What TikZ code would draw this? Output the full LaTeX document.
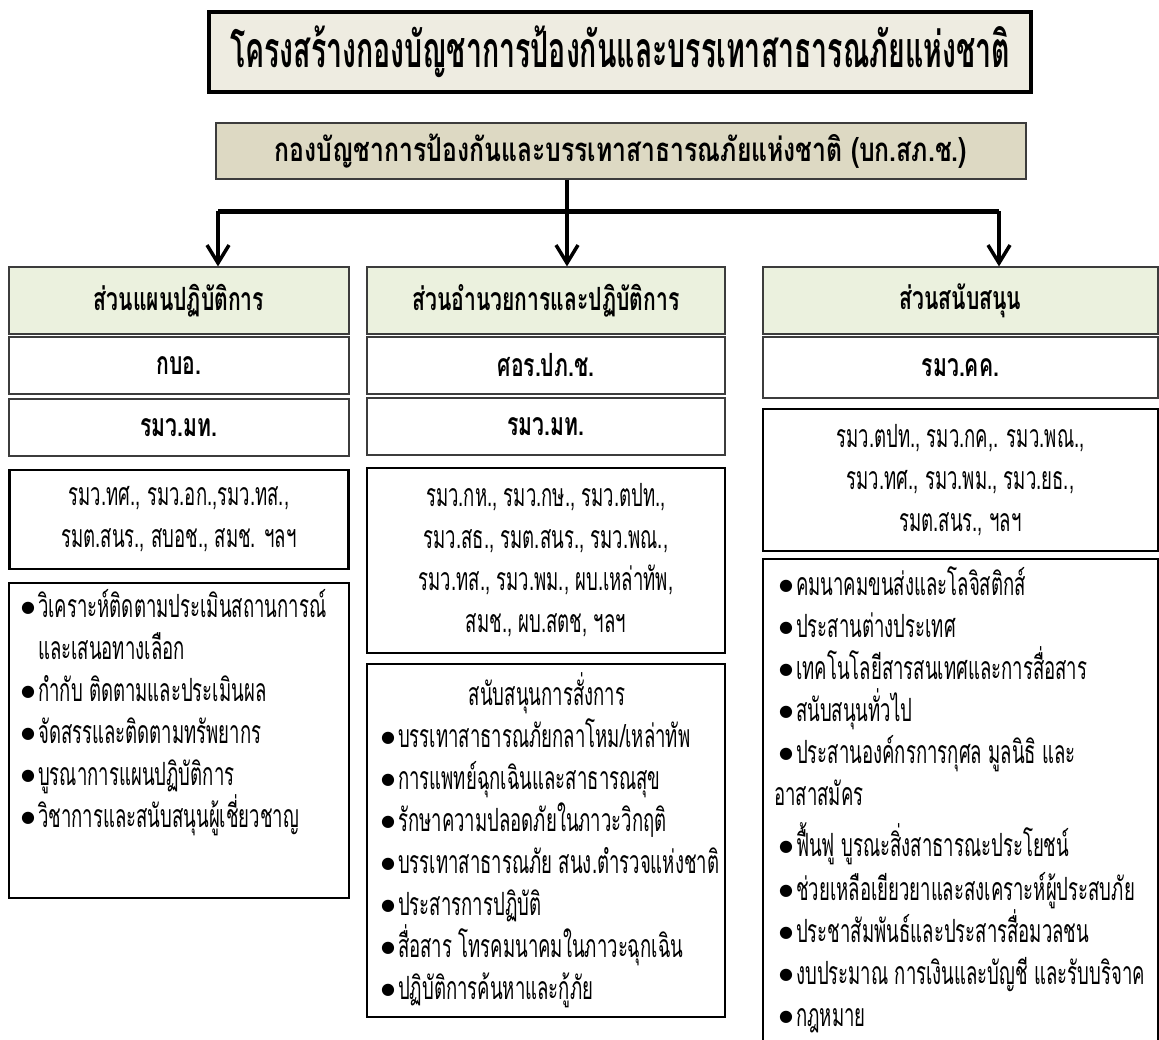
\documentclass[tikz,border=0pt]{standalone}
\usepackage{fontspec}
\newfontfamily\thaifont[Script=Thai,FakeStretch=0.58]{Loma}
\newfontfamily\thaibold[Script=Thai,FakeStretch=0.66]{Loma}
\newfontfamily\thaimain[Script=Thai,FakeStretch=0.75]{Loma}
\newfontfamily\thaititle[Script=Thai,FakeStretch=0.57]{Loma}
\newfontfamily\symfont{DejaVu Sans}
\usetikzlibrary{arrows.meta}

\definecolor{titlefill}{RGB}{238,236,225}
\definecolor{mainfill}{RGB}{221,217,195}
\definecolor{sectfill}{RGB}{235,241,222}
\definecolor{edgegray}{RGB}{60,60,60}

\newcommand{\plainthai}{\thaifont\fontsize{32}{42}\selectfont}
\newcommand{\boldthai}{\thaibold\bfseries\fontsize{32}{36}\selectfont}
\newcommand{\itemdot}{{\symfont\fontsize{16}{16}\selectfont\raisebox{5pt}{●}}\hspace{3pt}}

\begin{document}
\begin{tikzpicture}[x=1pt,y=-1pt,
  titlebox/.style={draw, line width=3.5pt, fill=titlefill, minimum width=822pt, minimum height=80pt,
    font=\thaititle\bfseries\fontsize{50}{56}\selectfont},
  mainbox/.style={draw=edgegray, line width=1.2pt, fill=mainfill, minimum width=810pt, minimum height=56pt,
    font=\thaimain\bfseries\fontsize{33}{38}\selectfont},
  sectbox/.style={draw=edgegray, line width=1.2pt, fill=sectfill, minimum height=67pt, font=\boldthai},
  unitbox/.style={draw=edgegray, line width=1.2pt, fill=white, minimum height=57pt, font=\boldthai},
  memberbox/.style={draw, line width=2.6pt, fill=white, align=center, font=\plainthai},
  dutybox/.style={draw, line width=2.6pt, fill=white},
  dutytext/.style={anchor=north west, align=left, inner sep=0pt, font=\plainthai},
  link/.style={line width=3.5pt},
  branch/.style={line width=5pt},
  down/.style={line width=3.5pt, -{Straight Barb[length=18pt,width=22pt]}}
]
\useasboundingbox (0,0) rectangle (1159,1040);

% title and command
\node[titlebox] (title) at (620,52) {โครงสร้างกองบัญชาการป้องกันและบรรเทาสาธารณภัยแห่งชาติ};
\node[mainbox] (main) at (621,151) {กองบัญชาการป้องกันและบรรเทาสาธารณภัยแห่งชาติ (บก.สภ.ช.)};

% sections
\node[sectbox, minimum width=340pt] (sec1) at (179,300.5) {ส่วนแผนปฏิบัติการ};
\node[sectbox, minimum width=358pt] (sec2) at (546,300.5) {ส่วนอำนวยการและปฏิบัติการ};
\node[sectbox, minimum width=395pt] (sec3) at (960.5,300.5) {ส่วนสนับสนุน};

% branch lines
\coordinate (bl) at (218,211.5);
\coordinate (bm) at (567,211.5);
\coordinate (br) at (999,211.5);
\draw[link] (bm |- main.south) -- (bm);
\draw[branch] (bl) -- (br);
\draw[down] (bl) -- (bl |- sec1.north);
\draw[down] (bm) -- (bm |- sec2.north);
\draw[down] (br) -- (br |- sec3.north);

% column 1
\node[unitbox, minimum width=340pt] (unit1a) at (179,365.5) {กบอ.};
\node[unitbox, minimum width=340pt] (unit1b) at (179,427.5) {รมว.มท.};
\node[memberbox, minimum width=339pt, minimum height=99pt] (mem1) at (179,519.5)
  {รมว.ทศ., รมว.อก.,รมว.ทส.,\\ รมต.สนร., สบอช., สมช. ฯลฯ};
\node[dutybox, minimum width=340pt, minimum height=315pt] (duty1) at (179,740.5) {};
\node[dutytext] (text1) at (21,589) {\itemdot วิเคราะห์ติดตามประเมินสถานการณ์\\
  \phantom{\itemdot}และเสนอทางเลือก\\
  \itemdot กำกับ ติดตามและประเมินผล\\
  \itemdot จัดสรรและติดตามทรัพยากร\\
  \itemdot บูรณาการแผนปฏิบัติการ\\
  \itemdot วิชาการและสนับสนุนผู้เชี่ยวชาญ};

% column 2
\node[unitbox, minimum width=358pt] (unit2a) at (546,365.5) {ศอร.ปภ.ช.};
\node[unitbox, minimum width=358pt] (unit2b) at (546,426.5) {รมว.มท.};
\node[memberbox, minimum width=358pt, minimum height=185pt] (mem2) at (546,560.5)
  {รมว.กห., รมว.กษ., รมว.ตปท.,\\ รมว.สธ., รมต.สนร., รมว.พณ.,\\
   รมว.ทส., รมว.พม., ผบ.เหล่าทัพ,\\ สมช., ผบ.สตช, ฯลฯ};
\node[dutybox, minimum width=358pt, minimum height=353pt] (duty2) at (546,840.5) {};
\node[font=\plainthai] (head2) at (547,693) {สนับสนุนการสั่งการ};
\node[dutytext] (text2) at (381,718) {\itemdot บรรเทาสาธารณภัยกลาโหม/เหล่าทัพ\\
  \itemdot การแพทย์ฉุกเฉินและสาธารณสุข\\
  \itemdot รักษาความปลอดภัยในภาวะวิกฤติ\\
  \itemdot บรรเทาสาธารณภัย สนง.ตำรวจแห่งชาติ\\
  \itemdot ประสารการปฏิบัติ\\
  \itemdot สื่อสาร โทรคมนาคมในภาวะฉุกเฉิน\\
  \itemdot ปฏิบัติการค้นหาและกู้ภัย};

% column 3
\node[unitbox, minimum width=395pt, minimum height=61pt] (unit3a) at (960.5,367.5) {รมว.คค.};
\node[memberbox, minimum width=395pt, minimum height=142pt] (mem3) at (960.5,480)
  {รมว.ตปท., รมว.กค,. รมว.พณ.,\\ รมว.ทศ., รมว.พม., รมว.ยธ.,\\ รมต.สนร., ฯลฯ};
\node[dutybox, minimum width=395pt, minimum height=484pt] (duty3) at (960.5,801) {};
\node[dutytext] (text3) at (774,566) {\hspace{5pt}\itemdot คมนาคมขนส่งและโลจิสติกส์\\
  \hspace{5pt}\itemdot ประสานต่างประเทศ\\
  \hspace{5pt}\itemdot เทคโนโลยีสารสนเทศและการสื่อสาร\\
  \hspace{5pt}\itemdot สนับสนุนทั่วไป\\
  \hspace{5pt}\itemdot ประสานองค์กรการกุศล มูลนิธิ และ\\
  อาสาสมัคร\\[9pt]
  \hspace{5pt}\itemdot ฟื้นฟู บูรณะสิ่งสาธารณะประโยชน์\\[2pt]
  \hspace{5pt}\itemdot ช่วยเหลือเยียวยาและสงเคราะห์ผู้ประสบภัย\\
  \hspace{5pt}\itemdot ประชาสัมพันธ์และประสารสื่อมวลชน\\
  \hspace{5pt}\itemdot งบประมาณ การเงินและบัญชี และรับบริจาค\\
  \hspace{5pt}\itemdot กฎหมาย};
\end{tikzpicture}
\end{document}
